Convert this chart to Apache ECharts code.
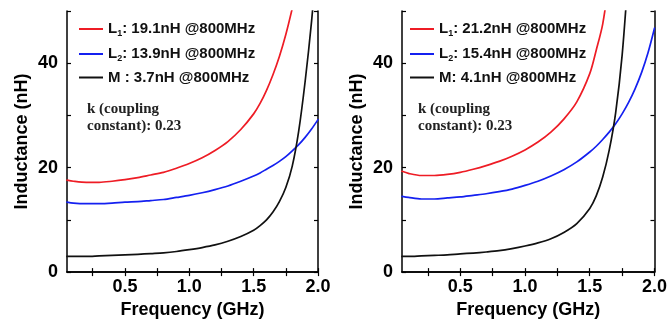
<!DOCTYPE html>
<html>
<head>
<meta charset="utf-8">
<script src="https://cdn.jsdelivr.net/npm/echarts@6/dist/echarts.min.js"></script>
<style>
  html, body { margin: 0; padding: 0; background: #fff; }
  #chart { width: 670px; height: 324px; }
</style>
</head>
<body>
<div id="chart"></div>
<script>
// Frequency sweep (GHz) shared by every curve
const freq = [0.05, 0.1, 0.2, 0.3, 0.4, 0.5, 0.6, 0.7, 0.8, 0.9, 1.0, 1.1, 1.2, 1.3, 1.4,
              1.5, 1.55, 1.6, 1.65, 1.7, 1.75, 1.8, 1.85, 1.9, 1.95, 2.0];

// Left panel (nH); null = beyond the plotted range
const leftL1 = [17.6, 17.4, 17.2, 17.2, 17.4, 17.7, 18.1, 18.6, 19.1, 19.9, 20.8, 21.9, 23.3, 25.0, 27.3,
                30.3, 32.3, 34.8, 37.8, 41.3, 45.5, 50.5, 56, null, null, null];
const leftL2 = [13.4, 13.2, 13.1, 13.1, 13.2, 13.4, 13.5, 13.7, 13.9, 14.3, 14.7, 15.2, 15.8, 16.5, 17.4,
                18.4, 19.0, 19.7, 20.4, 21.2, 22.1, 23.2, 24.4, 25.8, 27.4, 29.2];
const leftM  = [3.0, 3.0, 3.0, 3.1, 3.2, 3.3, 3.4, 3.55, 3.7, 3.95, 4.3, 4.7, 5.2, 5.9, 6.8,
                8.0, 8.9, 10.0, 11.5, 13.5, 16.2, 20.3, 27.0, 36.5, 48, 62];

// Right panel (nH)
const rightL1 = [19.3, 18.9, 18.5, 18.5, 18.7, 19.1, 19.7, 20.4, 21.2, 22.2, 23.4, 24.9, 26.8, 29.3, 32.6,
                 38.0, 42.5, 47.5, 56, null, null, null, null, null, null, null];
const rightL2 = [14.5, 14.3, 14.0, 14.0, 14.2, 14.4, 14.7, 15.0, 15.4, 15.9, 16.6, 17.4, 18.4, 19.6, 21.1,
                 23.0, 24.1, 25.4, 26.8, 28.4, 30.3, 32.5, 35.1, 38.2, 42.0, 46.7];
const rightM  = [3.0, 3.0, 3.1, 3.2, 3.3, 3.5, 3.65, 3.85, 4.1, 4.5, 5.0, 5.6, 6.4, 7.6, 9.3,
                 12.2, 14.6, 18.2, 23.3, 30.5, 41.5, 58, null, null, null, null];

// Legend entries for each panel
const leftNames  = ['L1: 19.1nH @800MHz', 'L2: 13.9nH @800MHz', 'M : 3.7nH @800MHz'];
const rightNames = ['L1: 21.2nH @800MHz', 'L2: 15.4nH @800MHz', 'M: 4.1nH @800MHz'];
const noteText = 'k (coupling\nconstant): 0.23';

// Axis ticks and labels
const xTicks = [0.25, 0.5, 0.75, 1.0, 1.25, 1.5, 1.75, 2.0];
const xLabels = [0.5, 1.0, 1.5, 2.0];
const yTicks = [0, 10, 20, 30, 40, 50];
const yLabels = [0, 20, 40];

const colors = ['#ee1c25', '#1420f0', '#111111'];
const SANS = '"Liberation Sans", Arial, sans-serif';

function pairs(values) {
  return freq.map((f, i) => [f, values[i]]).filter(p => p[1] !== null);
}

const lineAxis = { lineStyle: { color: '#000', width: 1.5 } };
const tickStyle = { inside: true, length: 4, lineStyle: { color: '#000', width: 1.2 } };

function xAxes(g) {
  return [
    {
      gridIndex: g, type: 'value', min: 0.05, max: 2.0, position: 'bottom',
      axisLine: lineAxis,
      axisTick: Object.assign({ customValues: xTicks }, tickStyle),
      axisLabel: {
        customValues: xLabels, formatter: v => v.toFixed(1), margin: 6,
        color: '#000', fontFamily: SANS, fontWeight: 'bold', fontSize: 18
      },
      splitLine: { show: false },
      name: 'Frequency (GHz)', nameLocation: 'middle', nameGap: 27,
      nameTextStyle: { color: '#000', fontFamily: SANS, fontWeight: 'bold', fontSize: 18 }
    },
    {
      gridIndex: g, type: 'value', min: 0.05, max: 2.0, position: 'top',
      axisLine: lineAxis,
      axisTick: Object.assign({ customValues: xTicks }, tickStyle),
      axisLabel: { show: false }, splitLine: { show: false }
    }
  ];
}

function yAxes(g) {
  return [
    {
      gridIndex: g, type: 'value', min: 0, max: 50, position: 'left',
      axisLine: lineAxis,
      axisTick: Object.assign({ customValues: yTicks }, tickStyle),
      axisLabel: {
        customValues: yLabels, margin: 9,
        color: '#000', fontFamily: SANS, fontWeight: 'bold', fontSize: 18
      },
      splitLine: { show: false },
      name: 'Inductance (nH)', nameLocation: 'middle', nameGap: 36,
      nameTextStyle: { color: '#000', fontFamily: SANS, fontWeight: 'bold', fontSize: 18 }
    },
    {
      gridIndex: g, type: 'value', min: 0, max: 50, position: 'right',
      axisLine: lineAxis,
      axisTick: Object.assign({ customValues: yTicks }, tickStyle),
      axisLabel: { show: false }, splitLine: { show: false }
    }
  ];
}

function makeSeries(names, sets, g) {
  return sets.map((vals, i) => ({
    name: names[i], type: 'line',
    xAxisIndex: g * 2, yAxisIndex: g * 2,
    data: pairs(vals),
    smooth: 0.3,
    symbol: 'none', clip: true,
    lineStyle: { color: colors[i], width: 1.7, cap: 'round', join: 'round' },
    itemStyle: { color: colors[i] },
    emphasis: { disabled: true }
  }));
}

function legendFor(names, left) {
  return {
    data: names, orient: 'vertical', left: left, top: 15,
    icon: 'rect', itemWidth: 24, itemHeight: 2, itemGap: 7,
    selectedMode: false,
    formatter: name => {
      const m = name.match(/^L(\d)(.*)$/);
      if (m) return '{t|L}{s|' + m[1] + '}{t|' + m[2] + '}';
      return '{t|' + name + '}';
    },
    textStyle: {
      color: '#111', fontFamily: SANS, fontWeight: 'bold', fontSize: 15,
      rich: {
        t: { fontFamily: SANS, fontWeight: 'bold', fontSize: 15, lineHeight: 18, color: '#111' },
        s: { fontFamily: SANS, fontWeight: 'bold', fontSize: 9, lineHeight: 18, color: '#111',
             padding: [9, 0, 0, 0] }
      }
    }
  };
}

const chart = echarts.init(document.getElementById('chart'), null, { renderer: 'canvas' });
chart.setOption({
  animation: false,
  backgroundColor: '#fff',
  grid: [
    { left: 67, top: 11, width: 251, height: 265 },
    { left: 402, top: 11, width: 253, height: 265 }
  ],
  xAxis: xAxes(0).concat(xAxes(1)),
  yAxis: yAxes(0).concat(yAxes(1)),
  legend: [legendFor(leftNames, 74), legendFor(rightNames, 405)],
  series: makeSeries(leftNames, [leftL1, leftL2, leftM], 0)
    .concat(makeSeries(rightNames, [rightL1, rightL2, rightM], 1)),
  graphic: [
    { type: 'text', left: 87, top: 101,
      style: { text: noteText, font: 'bold 15px "Liberation Serif", serif', lineHeight: 17, fill: '#222' } },
    { type: 'text', left: 418, top: 101,
      style: { text: noteText, font: 'bold 15px "Liberation Serif", serif', lineHeight: 17, fill: '#222' } }
  ]
});
</script>
</body>
</html>
